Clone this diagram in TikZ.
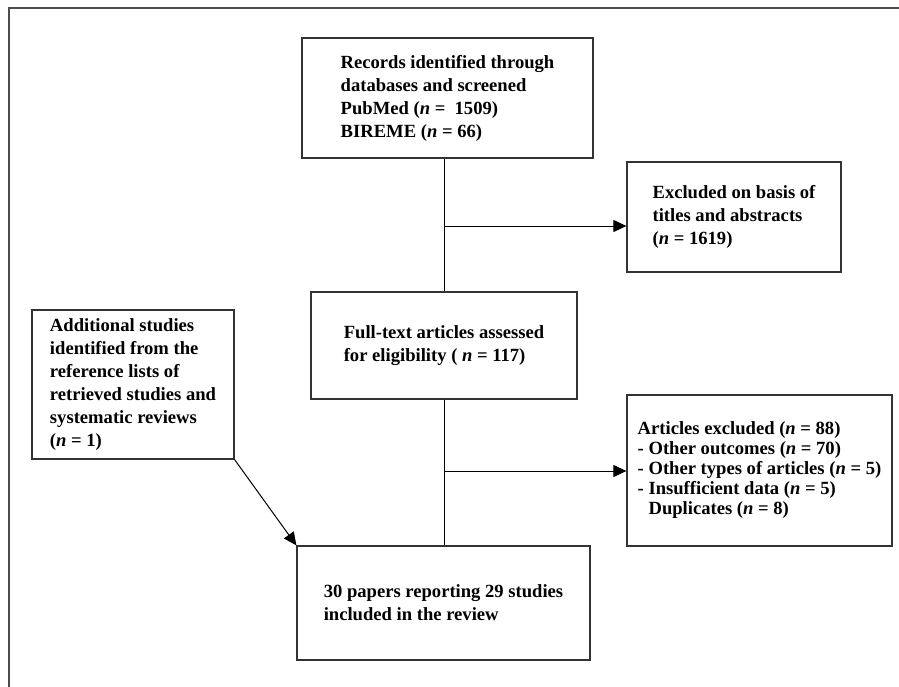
\documentclass[tikz,border=0pt]{standalone}
\usepackage{fontspec}
\setmainfont{Liberation Serif}
\usetikzlibrary{arrows.meta}

\begin{document}
\begin{tikzpicture}
  [x=1pt,y=-1pt,
   every node/.style={draw=black!80,line width=1.2pt,inner sep=0,align=left,
     font=\bfseries\fontsize{18.6}{23}\selectfont},
   link/.style={line width=1pt,black},
   arr/.style={link,-{Triangle[length=13pt,width=12pt]}}]

  \useasboundingbox (0,0) rectangle (899,687);
  \draw[draw=black!70,line width=1.3pt] (899,8) -- (9,8) -- (9,687);

  \node[minimum width=291,minimum height=120] (rec) at (447.5,98)
    {Records identified through\\databases and screened\\PubMed (\textit{n} =\ \ 1509)\\BIREME (\textit{n} = 66)};
  \node[minimum width=214,minimum height=110] (exc1) at (734,217)
    {Excluded on basis of\\titles and abstracts\\(\textit{n} = 1619)};
  \node[minimum width=266,minimum height=107] (full) at (444,345.5)
    {Full-text articles assessed\\for eligibility ( \textit{n} = 117)};
  \node[minimum width=202,minimum height=149] (add) at (133,384.5)
    {Additional studies\\identified from the\\reference lists of\\retrieved studies and\\systematic reviews\\(\textit{n} = 1)};
  \node[minimum width=265,minimum height=151,font=\bfseries\fontsize{18.6}{20}\selectfont] (exc2) at (759.5,470.5)
    {Articles excluded (\textit{n} = 88)\\- Other outcomes (\textit{n} = 70)\\- Other types of articles (\textit{n} = 5)\\- Insufficient data (\textit{n} = 5)\\\hphantom{-}\ Duplicates (\textit{n} = 8)};
  \node[minimum width=293,minimum height=114] (incl) at (443.5,603)
    {30 papers reporting 29 studies\\included in the review};

  \coordinate (b1) at (444,226);
  \coordinate (b2) at (444,471);

  \draw[link] (full.north) -- (full.north |- rec.south);
  \draw[link] (full.south) -- (full.south |- incl.north);
  \draw[arr] (b1) -- (exc1.west |- b1);
  \draw[arr] (b2) -- (exc2.west |- b2);
  \draw[arr] (add.south east) -- (incl.north west);
\end{tikzpicture}
\end{document}
